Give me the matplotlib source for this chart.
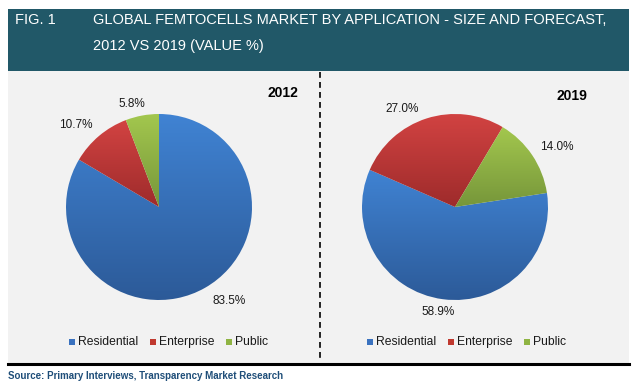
import matplotlib
matplotlib.use("Agg")
import matplotlib.pyplot as plt
import numpy as np
from matplotlib.patches import Rectangle
from matplotlib.lines import Line2D
from matplotlib.colors import LinearSegmentedColormap

plt.rcParams['font.family'] = ['Liberation Sans', 'DejaVu Sans']

categories = ["Residential", "Enterprise", "Public"]
values_2012 = [83.5, 10.7, 5.8]
values_2019 = [58.9, 27.0, 14.0]
years = ["2012", "2019"]
title_line1 = "GLOBAL FEMTOCELLS MARKET BY APPLICATION - SIZE AND FORECAST,"
title_line2 = "2012 VS 2019 (VALUE %)"
fig_label = "FIG. 1"
source = "Source: Primary Interviews, Transparency Market Research"

W, H = 637, 390
fig = plt.figure(figsize=(W / 100, H / 100), dpi=100)
fig.patch.set_facecolor("white")

def fx(px):
    return px / W

def fy(py):
    return 1 - py / H

# header band
fig.patches.append(Rectangle((fx(8), fy(71)), fx(629) - fx(8), fy(9) - fy(71),
                             transform=fig.transFigure, facecolor="#215868", edgecolor="none", zorder=-5))
# gray panel
fig.patches.append(Rectangle((fx(8), fy(363)), fx(629) - fx(8), fy(71) - fy(363),
                             transform=fig.transFigure, facecolor="#f2f2f2", edgecolor="none", zorder=-5))
# black bottom rule
fig.add_artist(Line2D([fx(8), fx(629)], [fy(364), fy(364)], transform=fig.transFigure,
                      color="black", linewidth=2.2))
# dashed divider
fig.add_artist(Line2D([fx(319.5), fx(319.5)], [fy(72), fy(358)], transform=fig.transFigure,
                      color="black", linewidth=1.2, linestyle=(0, (3.5, 2.5))))

fig.text(fx(15), fy(20), fig_label, color="white", fontsize=10.5, va="center", ha="left")
fig.text(fx(93), fy(20), title_line1, color="white", fontsize=10.5, va="center", ha="left")
fig.text(fx(93), fy(46), title_line2, color="white", fontsize=10.5, va="center", ha="left")
fig.text(fx(8), fy(376), source, color="#1f4e79", fontsize=7, fontweight="bold", va="center", ha="left")

light = ["#4083d3", "#d24342", "#a3c74e"]
dark = ["#2c5a98", "#9e2b2b", "#76963a"]
legend_col = ["#3a72bf", "#c0392f", "#8fb443"]

R = 93
pies = [
    dict(vals=values_2012, cx=159, cy=207, start=90,
         labels=[(0.75, -1.01), (-0.89, 0.88), (-0.29, 1.11)], year_pos=(283, 93), leg_x=69),
    dict(vals=values_2019, cx=455, cy=207, start=8.7,
         labels=[(-0.18, -1.13), (-0.57, 1.05), (1.09, 0.65)], year_pos=(572, 96), leg_x=367),
]

for p, yr in zip(pies, years):
    ax = fig.add_axes([fx(p["cx"] - R), fy(p["cy"] + R), 2 * R / W, 2 * R / H])
    ax.set_facecolor("none")
    wedges, _ = ax.pie(p["vals"], startangle=p["start"], counterclock=False,
                       colors=light, radius=1.0, wedgeprops=dict(linewidth=0))
    for i, w in enumerate(wedges):
        # vertical gradient over wedge bounding box
        verts = w.get_path().vertices
        ymin, ymax = verts[:, 1].min(), verts[:, 1].max()
        cmap = LinearSegmentedColormap.from_list("g", [dark[i], light[i]])
        grad = np.linspace(0, 1, 256).reshape(-1, 1)
        im = ax.imshow(grad, extent=(-1.05, 1.05, ymin, ymax), origin="lower",
                       cmap=cmap, aspect="auto", zorder=2)
        im.set_clip_path(w)
        w.set_facecolor("none")
    ax.set_xlim(-1, 1)
    ax.set_ylim(-1, 1)
    ax.set_aspect("equal")
    ax.axis("off")
    for v, (lx, ly) in zip(p["vals"], p["labels"]):
        ax.text(lx, ly, f"{v:.1f}%", ha="center", va="center", fontsize=8.5,
                color="#1a1a1a", clip_on=False, zorder=5)
    fig.text(fx(p["year_pos"][0]), fy(p["year_pos"][1]), yr, fontsize=10,
             fontweight="bold", ha="center", va="center")
    # legend
    xoff = p["leg_x"]
    positions = [0, 81, 157]
    for c, name, dx in zip(legend_col, categories, positions):
        fig.patches.append(Rectangle((fx(xoff + dx), fy(345)), 6 / W, 6 / H,
                                     transform=fig.transFigure, facecolor=c, edgecolor="none"))
        fig.text(fx(xoff + dx + 9), fy(342), name, fontsize=8.7, ha="left", va="center",
                 color="#1a1a1a")

fig.savefig("out.png", dpi=100)
